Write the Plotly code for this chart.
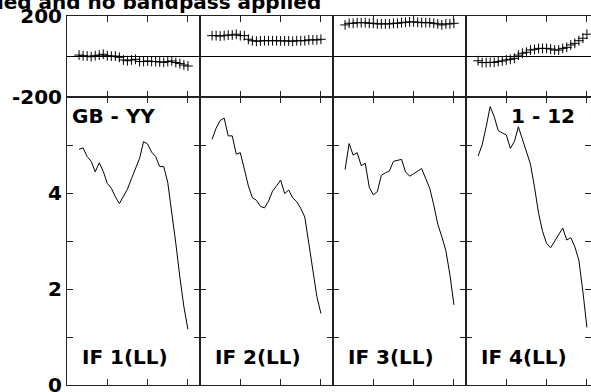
import plotly.graph_objects as go
from plotly.subplots import make_subplots

# channel numbers shown in each IF panel
channels = list(range(3, 31))

if_labels = ['IF 1(LL)', 'IF 2(LL)', 'IF 3(LL)', 'IF 4(LL)']

# phase (degrees) per IF
phase_if1 = [7, 4, 2, -1, 4, 7, 11, 4, 2, 2, -4, -17, -21, -17, -14, -25, -25, -22, -25, -25,
             -27, -29, -25, -22, -30, -35, -42, -47]
phase_if2 = [103, 103, 101, 103, 106, 106, 110, 103, 103, 85, 78, 75, 77, 78, 78, 78, 78, 77, 77, 77,
             75, 78, 78, 78, 82, 82, 82, 85]
phase_if3 = [156, 164, 164, 167, 167, 167, 164, 164, 161, 161, 161, 161, 164, 164, 167, 169, 171, 171,
             169, 167, 167, 167, 164, 161, 156, 161, 161, 164]
phase_if4 = [-21, -30, -30, -29, -29, -25, -22, -17, -14, -9, 7, 16, 21, 32, 35, 40, 40, 40, 37, 32,
             32, 40, 45, 57, 65, 78, 90, 110]

# amplitude per IF
amp_if1 = [4.91, 4.94, 4.76, 4.66, 4.44, 4.63, 4.45, 4.2, 4.1, 3.92, 3.78, 3.92, 4.08, 4.3, 4.5, 4.72,
           5.07, 5.02, 4.85, 4.76, 4.55, 4.55, 4.22, 3.62, 2.95, 2.25, 1.63, 1.16]
amp_if2 = [5.12, 5.35, 5.51, 5.56, 5.19, 5.19, 4.81, 4.84, 4.5, 4.15, 3.9, 3.85, 3.72, 3.69, 3.83, 4.04,
           4.15, 4.27, 3.99, 4.06, 3.9, 3.82, 3.68, 3.5, 2.95, 2.35, 1.84, 1.49]
amp_if3 = [4.49, 5.03, 4.79, 4.84, 4.57, 4.62, 4.12, 3.96, 4.03, 4.37, 4.42, 4.46, 4.66, 4.68, 4.70, 4.44,
           4.35, 4.4, 4.46, 4.51, 4.3, 4.1, 3.75, 3.35, 3.09, 2.8, 2.3, 1.67]
amp_if4 = [4.77, 5.0, 5.38, 5.80, 5.59, 5.30, 5.25, 5.21, 4.93, 5.07, 5.38, 5.12, 4.88, 4.60, 4.12, 3.58,
           3.2, 2.95, 2.86, 3.0, 3.15, 3.27, 3.02, 3.07, 2.88, 2.6, 1.95, 1.2]

phases = [phase_if1, phase_if2, phase_if3, phase_if4]
amps = [amp_if1, amp_if2, amp_if3, amp_if4]

FONT = 'DejaVu Sans'

fig = make_subplots(rows=2, cols=4, horizontal_spacing=0, vertical_spacing=0,
                    column_widths=[133, 133, 133, 125], row_heights=[81, 288])

for i in range(4):
    fig.add_trace(
        go.Scatter(x=channels, y=phases[i], mode='markers',
                   marker=dict(symbol='cross-thin', size=7, color='black',
                               line=dict(width=1, color='black'))),
        row=1, col=i + 1)
    fig.add_trace(
        go.Scatter(x=channels, y=amps[i], mode='lines', line=dict(color='black', width=1)),
        row=2, col=i + 1)

axis_style = dict(showline=True, linecolor='#222', linewidth=1, mirror='ticks',
                  ticks='inside', ticklen=6, tickcolor='#222', tickwidth=1,
                  showgrid=False, automargin=False, ticklabeloverflow='allow')

for i in range(4):
    xr = [0, 33] if i < 3 else [0, 33 * 125 / 133]
    for r in (1, 2):
        fig.update_xaxes(range=xr, tickvals=[10, 20, 30], showticklabels=False,
                         zeroline=False, row=r, col=i + 1, **axis_style)
    fig.update_yaxes(range=[-200, 200], tickvals=[-200, 200], ticktext=['-200', '200'],
                     showticklabels=(i == 0),
                     zeroline=True, zerolinecolor='black', zerolinewidth=1,
                     row=1, col=i + 1, **axis_style)
    fig.update_yaxes(range=[0, 6], tickvals=[0, 1, 2, 3, 4, 5],
                     ticktext=['0', '', '2', '', '4', ''], showticklabels=(i == 0),
                     zeroline=False, row=2, col=i + 1, **axis_style)

    w = 133 if i < 3 else 125
    fig.add_annotation(text=if_labels[i], xref='x domain', yref='y domain',
                       x=13 / w, y=0.097, xanchor='left', yanchor='middle',
                       showarrow=False, row=2, col=i + 1,
                       font=dict(family=FONT, size=20, color='black', weight='bold'))

fig.add_annotation(text='GB - YY', xref='x domain', yref='y domain', x=3 / 133, y=0.935,
                   xanchor='left', yanchor='middle', showarrow=False, row=2, col=1,
                   font=dict(family=FONT, size=20, color='black', weight='bold'))
fig.add_annotation(text='1 - 12', xref='x domain', yref='y domain', x=111 / 125, y=0.935,
                   xanchor='right', yanchor='middle', showarrow=False, row=2, col=4,
                   font=dict(family=FONT, size=20, color='black', weight='bold'))

# title, mostly off the top of the page
fig.add_annotation(text='Calibration applied and no bandpass applied', xref='paper', yref='paper',
                   x=(323 - 67) / 524, y=1.0, xanchor='right', yanchor='bottom',
                   showarrow=False,
                   font=dict(family=FONT, size=20, color='black', weight='bold'))

fig.update_layout(
    width=591, height=392,
    margin=dict(l=67, r=0, t=16, b=7, autoexpand=False),
    showlegend=False,
    plot_bgcolor='white', paper_bgcolor='white',
    font=dict(family=FONT, size=20, color='black', weight='bold'),
)

fig.write_html("out.html", config={'displayModeBar': False},
               post_script="document.body.style.margin='0';document.body.style.overflow='hidden';")
